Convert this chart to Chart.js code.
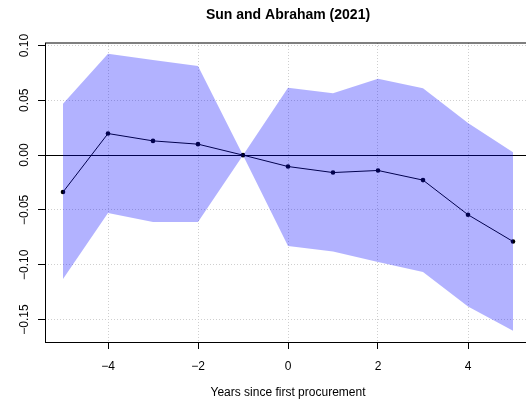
<!DOCTYPE html>
<html>
<head>
<meta charset="utf-8">
<title>Sun and Abraham (2021)</title>
<script src="https://cdn.jsdelivr.net/npm/chart.js@4.4.1/dist/chart.umd.min.js"></script>
<style>
    body { margin: 0; overflow: hidden; background: #fff; }
    #wrap { width: 576px; height: 404px; }
</style>
</head>
<body>
<div id="wrap"><canvas id="esChart" width="576" height="404"></canvas></div>
<script>
// Event-study estimates and 95% band
const years = [-5, -4, -3, -2, -1, 0, 1, 2, 3, 4, 5];
const estimate = [-0.0337, 0.0197, 0.0130, 0.0100, 0, -0.0104, -0.0159, -0.0140, -0.0228, -0.0544, -0.0788];
const upper = [0.0468, 0.0924, 0.0869, 0.0814, 0, 0.0614, 0.0565, 0.0696, 0.0611, 0.0292, 0.0027];
const lower = [-0.1131, -0.0529, -0.0611, -0.0611, 0, -0.0830, -0.0879, -0.0976, -0.1067, -0.1380, -0.1602];

const xTicks = [-4, -2, 0, 2, 4];
const yTicks = [-0.15, -0.10, -0.05, 0, 0.05, 0.10];

const toPoints = arr => years.map((x, i) => ({ x: x, y: arr[i] }));
const minus = v => (v < 0 ? '\u2212' : '');

Chart.defaults.font.family = '"Liberation Sans", Arial, Helvetica, sans-serif';
Chart.defaults.color = '#000';

// zero reference line under the band, frame around the plot region
const framePlugin = {
    id: 'frame',
    beforeDatasetsDraw(chart) {
        const { ctx, chartArea: a } = chart;
        const y0 = Math.round(chart.scales.y.getPixelForValue(0)) + 0.5;
        ctx.save();
        ctx.strokeStyle = '#000';
        ctx.lineWidth = 1;
        ctx.beginPath();
        ctx.moveTo(a.left, y0);
        ctx.lineTo(a.right, y0);
        ctx.stroke();
        ctx.restore();
    },
    afterDraw(chart) {
        const { ctx, chartArea: a } = chart;
        ctx.save();
        ctx.strokeStyle = '#000';
        ctx.lineWidth = 1;
        ctx.strokeRect(a.left + 0.5, a.top, a.right - a.left, a.bottom - a.top + 0.5);
        ctx.restore();
    }
};

const gridStyle = {
    color: '#cfcfcf',
    lineWidth: 1,
    tickColor: '#000',
    tickLength: 7,
    tickBorderDash: []
};

new Chart(document.getElementById('esChart'), {
    type: 'line',
    data: {
        datasets: [
            {
                label: 'upper',
                data: toPoints(upper),
                borderWidth: 0,
                pointRadius: 0,
                fill: '+1',
                backgroundColor: 'rgba(0, 0, 255, 0.3)'
            },
            {
                label: 'lower',
                data: toPoints(lower),
                borderWidth: 0,
                pointRadius: 0,
                fill: false
            },
            {
                label: 'estimate',
                data: toPoints(estimate),
                borderColor: '#000',
                borderWidth: 1,
                pointRadius: 2.3,
                pointBackgroundColor: '#000',
                pointBorderWidth: 0,
                fill: false
            }
        ]
    },
    options: {
        responsive: false,
        animation: false,
        layout: { padding: { right: 45 } },
        plugins: {
            legend: { display: false },
            tooltip: { enabled: false },
            title: {
                display: true,
                fullSize: false,
                text: 'Sun and Abraham (2021)',
                font: { size: 14, weight: 'bold' },
                padding: { top: 6.6, bottom: 19.6 }
            }
        },
        scales: {
            x: {
                type: 'linear',
                min: -5.4,
                max: 5.4,
                afterBuildTicks: s => { s.ticks = xTicks.map(v => ({ value: v })); },
                afterFit: s => { s.height = 62; },
                grid: gridStyle,
                border: { display: false, dash: [1, 2] },
                ticks: {
                    font: { size: 12 },
                    padding: 10,
                    maxRotation: 0,
                    callback: v => minus(v) + Math.abs(v)
                },
                title: {
                    display: true,
                    text: 'Years since first procurement',
                    font: { size: 12 },
                    padding: { top: 0, bottom: 4.4 }
                }
            },
            y: {
                min: -0.1705,
                max: 0.1023,
                afterBuildTicks: s => { s.ticks = yTicks.map(v => ({ value: v })); },
                afterFit: s => { s.width = 45; },
                grid: gridStyle,
                border: { display: false, dash: [1, 2] },
                ticks: {
                    font: { size: 12 },
                    minRotation: 90,
                    maxRotation: 90,
                    crossAlign: 'center',
                    padding: -2,
                    callback: v => minus(v) + Math.abs(v).toFixed(2)
                }
            }
        }
    },
    plugins: [framePlugin]
});
</script>
</body>
</html>
